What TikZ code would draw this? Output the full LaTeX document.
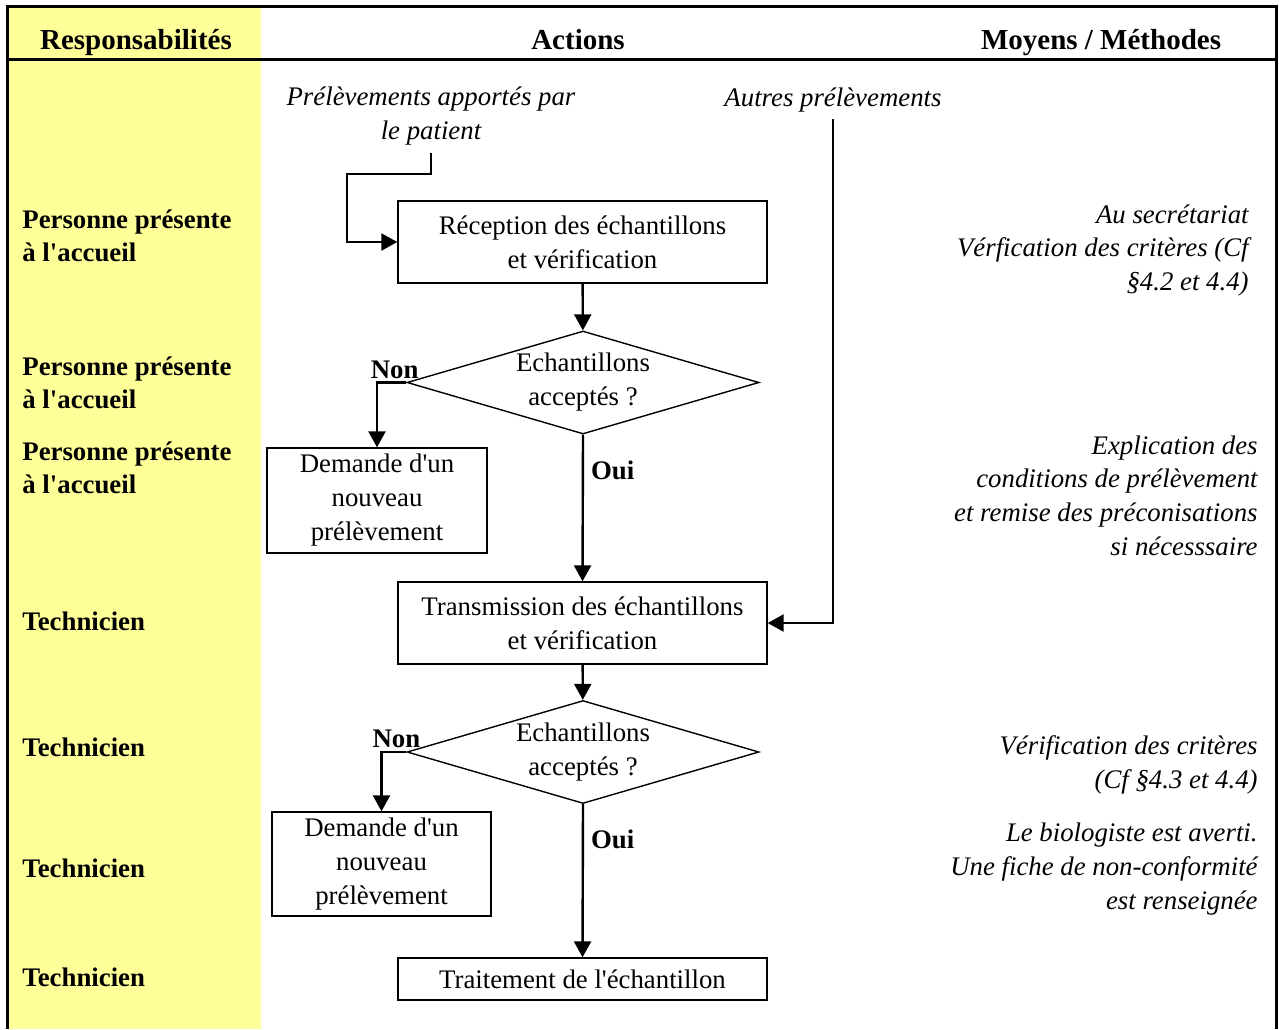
\documentclass[tikz,border=0pt]{standalone}
\usepackage{fontspec}
\setmainfont{Liberation Serif}[Ligatures=TeXOff]
\usetikzlibrary{arrows.meta,shapes.geometric}
\definecolor{respyellow}{RGB}{255,255,153}

\begin{document}
\begin{tikzpicture}[x=0.5pt,y=-0.5pt,
    txt/.style={font=\fontsize{13.4}{17}\selectfont},
    etape/.style={txt,draw,line width=0.7pt,align=center,inner sep=0pt},
    choix/.style={txt,draw,line width=0.7pt,align=center,shape=diamond,
        aspect=3.4,inner sep=0pt,minimum width=176pt,minimum height=51.5pt},
    lbl/.style={txt,font=\fontsize{13.4}{17}\selectfont\bfseries,inner sep=1.5pt}]
    \useasboundingbox (0,0) rectangle (1279,1029);
    \fill[respyellow] (8,7) rectangle (261,1029);
    \draw[line width=1.5pt] (7,1029) -- (7,6) -- (1276,6) -- (1276,1029);
    \draw[line width=1.5pt] (7,59) -- (1276,59);

    % en-tetes
    \begin{scope}[every node/.style={font=\fontsize{14.5}{17}\selectfont\bfseries,
        anchor=base,inner sep=0pt}]
        \node (hresp) at (136,49) {Responsabilités};
        \node (hact) at (578,49) {Actions};
        \node (hmoy) at (1101,49) {Moyens / Méthodes};
    \end{scope}

    % responsabilites
    \begin{scope}[every node/.style={font=\fontsize{13.4}{16.5}\selectfont\bfseries,
        anchor=west,align=left,inner sep=0pt}]
        \node (r1) at (22,235.5) {Personne présente\\à l'accueil};
        \node (r2) at (22,383) {Personne présente\\à l'accueil};
        \node (r3) at (22,467.5) {Personne présente\\à l'accueil};
        \node (r4) at (22,621) {Technicien};
        \node (r5) at (22,747) {Technicien};
        \node (r6) at (22,868) {Technicien};
        \node (r7) at (22,977) {Technicien};
    \end{scope}

    % actions
    \begin{scope}[every node/.style={txt}]
        \node[align=center,font=\fontsize{13.4}{17}\selectfont\itshape] (pat) at (431,116.5) {Prélèvements apportés par\\le patient};
        \node[font=\fontsize{13.4}{17}\selectfont\itshape] (aut) at (833,100) {Autres prélèvements};
        \node[etape,minimum width=184.5pt,minimum height=41pt] (rec) at (582.5,242) {Réception des échantillons\\et vérification};
        \node[choix] (ok1) at (583,382.5) {Echantillons\\acceptés ?};
        \node[etape,minimum width=110pt,minimum height=52.5pt] (dem1) at (377,500.5) {Demande d'un\\nouveau\\prélèvement};
        \node[etape,minimum width=184.5pt,minimum height=41pt] (trans) at (582.5,623) {Transmission des échantillons\\et vérification};
        \node[choix] (ok2) at (583,752) {Echantillons\\acceptés ?};
        \node[etape,minimum width=109.5pt,minimum height=52pt] (dem2) at (381.5,864) {Demande d'un\\nouveau\\prélèvement};
        \node[etape,minimum width=184.5pt,minimum height=21pt] (trait) at (582.5,979) {Traitement de l'échantillon};
        \coordinate (kpat) at (347,174);
    \end{scope}

    % moyens / methodes
    \begin{scope}[every node/.style={font=\fontsize{13.4}{16.8}\selectfont\itshape,
        anchor=east,align=right,inner sep=0pt}]
        \node (m1) at (1249,250.5) {Au secrétariat\\Vérfication des critères (Cf\\§4.2 et 4.4)};
        \node (m2) at (1258,495.5) {Explication des\\conditions de prélèvement\\et remise des préconisations\\si nécesssaire};
        \node (m3) at (1258,765) {Vérification des critères\\(Cf §4.3 et 4.4)};
        \node (m4) at (1258,869) {Le biologiste est averti.\\Une fiche de non-conformité\\est renseignée};
    \end{scope}

    \begin{scope}[>={Triangle[length=8pt,width=8.5pt]},line width=1.2pt]
        \draw[->] (pat.south) |- (kpat) |- (rec.west);
        \draw[->] (aut.south) |- (trans.east);
        \draw[->] (rec) -- (ok1);
        \draw[->] (ok1.west) -| node[lbl,pos=0.2,above] {Non} (dem1.north);
        \draw[->] (ok1.south) -- node[lbl,pos=0.24,right,xshift=2pt] {Oui} (trans.north);
        \draw[->] (trans) -- (ok2);
        \draw[->] (ok2.west) -| node[lbl,pos=0.2,above] {Non} (dem2.north);
        \draw[->] (ok2.south) -- node[lbl,pos=0.23,right,xshift=2pt] {Oui} (trait.north);
    \end{scope}
\end{tikzpicture}
\end{document}
